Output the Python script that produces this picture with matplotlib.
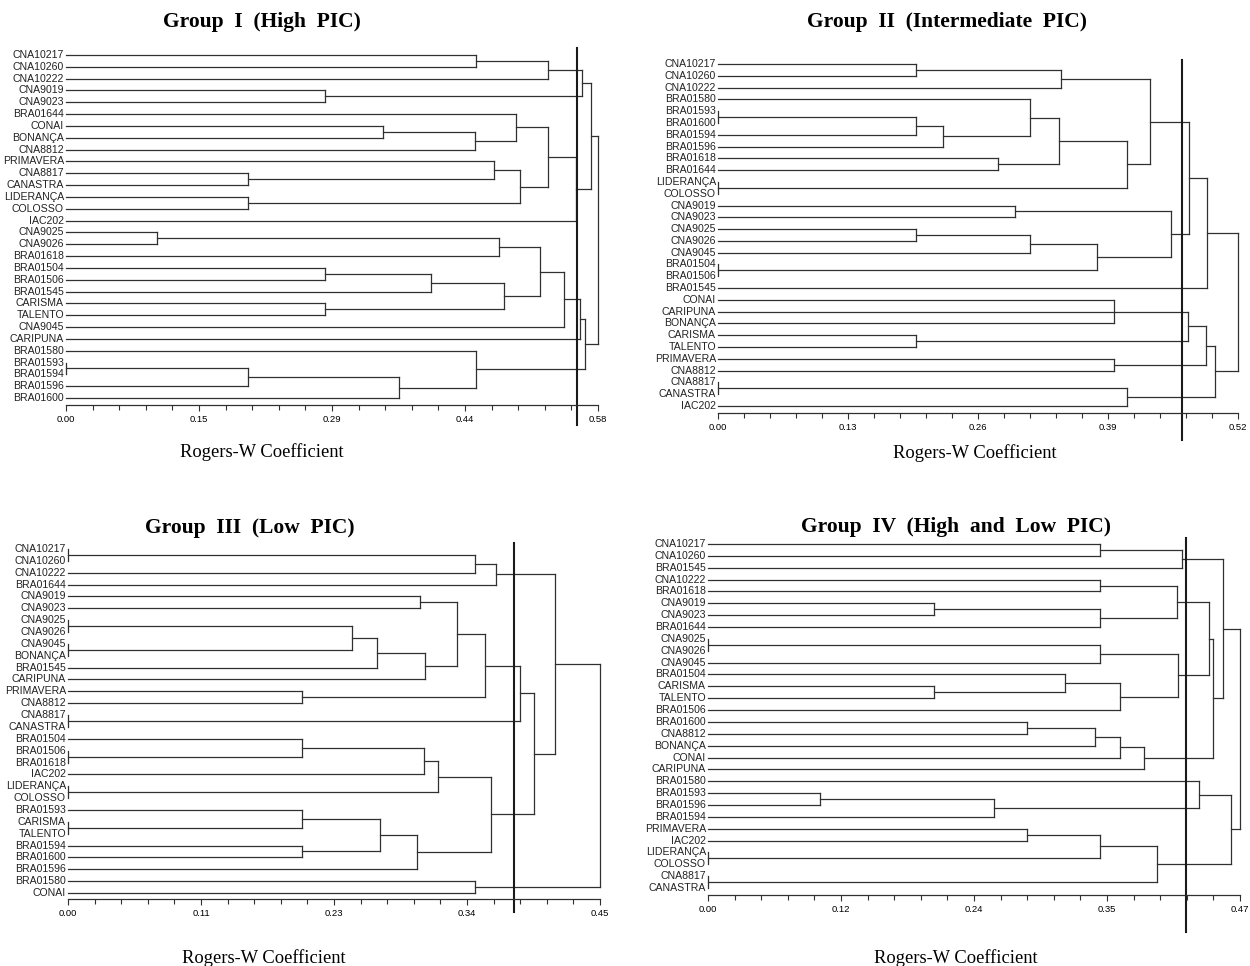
import matplotlib
matplotlib.use('Agg')
import matplotlib.pyplot as plt
import matplotlib.transforms as mtransforms
import numpy as np

# ---- data: leaf order and merges (children, Rogers-W height) ----
# children are leaf names or the index of an earlier merge in the same list

g1_labels = ['CNA10217', 'CNA10260', 'CNA10222', 'CNA9019', 'CNA9023', 'BRA01644', 'CONAI',
             'BONANÇA', 'CNA8812', 'PRIMAVERA', 'CNA8817', 'CANASTRA', 'LIDERANÇA', 'COLOSSO',
             'IAC202', 'CNA9025', 'CNA9026', 'BRA01618', 'BRA01504', 'BRA01506', 'BRA01545',
             'CARISMA', 'TALENTO', 'CNA9045', 'CARIPUNA', 'BRA01580', 'BRA01593', 'BRA01594',
             'BRA01596', 'BRA01600']
g1_merges = [
    (['CNA10217', 'CNA10260'], 0.447),   # 0
    ([0, 'CNA10222'], 0.526),            # 1
    (['CNA9019', 'CNA9023'], 0.282),     # 2
    ([1, 2], 0.563),                     # 3
    (['CONAI', 'BONANÇA'], 0.346),       # 4
    ([4, 'CNA8812'], 0.446),             # 5
    (['BRA01644', 5], 0.491),            # 6
    (['CNA8817', 'CANASTRA'], 0.198),    # 7
    (['PRIMAVERA', 7], 0.467),           # 8
    (['LIDERANÇA', 'COLOSSO'], 0.198),   # 9
    ([8, 9], 0.495),                     # 10
    ([6, 10], 0.526),                    # 11
    ([11, 'IAC202'], 0.556),             # 12
    ([3, 12], 0.572),                    # 13
    (['CNA9025', 'CNA9026'], 0.099),     # 14
    ([14, 'BRA01618'], 0.472),           # 15
    (['BRA01504', 'BRA01506'], 0.282),   # 16
    ([16, 'BRA01545'], 0.398),           # 17
    (['CARISMA', 'TALENTO'], 0.282),     # 18
    ([17, 18], 0.478),                   # 19
    ([15, 19], 0.517),                   # 20
    ([20, 'CNA9045'], 0.543),            # 21
    ([21, 'CARIPUNA'], 0.560),           # 22
    (['BRA01593', 'BRA01594'], 0.0),     # 23
    ([23, 'BRA01596'], 0.198),           # 24
    ([24, 'BRA01600'], 0.363),           # 25
    (['BRA01580', 25], 0.447),           # 26
    ([22, 26], 0.566),                   # 27
    ([13, 27], 0.58),                    # 28
]

g2_labels = ['CNA10217', 'CNA10260', 'CNA10222', 'BRA01580', 'BRA01593', 'BRA01600', 'BRA01594',
             'BRA01596', 'BRA01618', 'BRA01644', 'LIDERANÇA', 'COLOSSO', 'CNA9019', 'CNA9023',
             'CNA9025', 'CNA9026', 'CNA9045', 'BRA01504', 'BRA01506', 'BRA01545', 'CONAI',
             'CARIPUNA', 'BONANÇA', 'CARISMA', 'TALENTO', 'PRIMAVERA', 'CNA8812', 'CNA8817',
             'CANASTRA', 'IAC202']
g2_merges = [
    (['CNA10217', 'CNA10260'], 0.198),   # 0
    ([0, 'CNA10222'], 0.343),            # 1
    (['BRA01593', 'BRA01600'], 0.0),     # 2
    ([2, 'BRA01594'], 0.198),            # 3
    ([3, 'BRA01596'], 0.225),            # 4
    (['BRA01580', 4], 0.312),            # 5
    (['BRA01618', 'BRA01644'], 0.280),   # 6
    ([5, 6], 0.341),                     # 7
    (['LIDERANÇA', 'COLOSSO'], 0.0),     # 8
    ([7, 8], 0.409),                     # 9
    ([1, 9], 0.432),                     # 10
    (['CNA9019', 'CNA9023'], 0.297),     # 11
    (['CNA9025', 'CNA9026'], 0.198),     # 12
    ([12, 'CNA9045'], 0.312),            # 13
    (['BRA01504', 'BRA01506'], 0.0),     # 14
    ([13, 14], 0.379),                   # 15
    ([11, 15], 0.453),                   # 16
    ([10, 16], 0.471),                   # 17
    ([17, 'BRA01545'], 0.489),           # 18
    (['CONAI', 'CARIPUNA', 'BONANÇA'], 0.396),  # 19
    (['CARISMA', 'TALENTO'], 0.198),     # 20
    ([19, 20], 0.470),                   # 21
    (['PRIMAVERA', 'CNA8812'], 0.396),   # 22
    ([21, 22], 0.488),                   # 23
    (['CNA8817', 'CANASTRA'], 0.0),      # 24
    ([24, 'IAC202'], 0.409),             # 25
    ([23, 25], 0.497),                   # 26
    ([18, 26], 0.52),                    # 27
]

g3_labels = ['CNA10217', 'CNA10260', 'CNA10222', 'BRA01644', 'CNA9019', 'CNA9023', 'CNA9025',
             'CNA9026', 'CNA9045', 'BONANÇA', 'BRA01545', 'CARIPUNA', 'PRIMAVERA', 'CNA8812',
             'CNA8817', 'CANASTRA', 'BRA01504', 'BRA01506', 'BRA01618', 'IAC202', 'LIDERANÇA',
             'COLOSSO', 'BRA01593', 'CARISMA', 'TALENTO', 'BRA01594', 'BRA01600', 'BRA01596',
             'BRA01580', 'CONAI']
g3_merges = [
    (['CNA10217', 'CNA10260'], 0.0),     # 0
    ([0, 'CNA10222'], 0.344),            # 1
    ([1, 'BRA01644'], 0.362),            # 2
    (['CNA9019', 'CNA9023'], 0.298),     # 3
    (['CNA9025', 'CNA9026'], 0.0),       # 4
    (['CNA9045', 'BONANÇA'], 0.0),       # 5
    ([4, 5], 0.240),                     # 6
    ([6, 'BRA01545'], 0.261),            # 7
    ([7, 'CARIPUNA'], 0.302),            # 8
    ([3, 8], 0.329),                     # 9
    (['PRIMAVERA', 'CNA8812'], 0.198),   # 10
    ([9, 10], 0.353),                    # 11
    (['CNA8817', 'CANASTRA'], 0.0),      # 12
    ([11, 12], 0.382),                   # 13
    (['BRA01506', 'BRA01618'], 0.0),     # 14
    (['BRA01504', 14], 0.198),           # 15
    ([15, 'IAC202'], 0.301),             # 16
    (['LIDERANÇA', 'COLOSSO'], 0.0),     # 17
    ([16, 17], 0.313),                   # 18
    (['CARISMA', 'TALENTO'], 0.0),       # 19
    (['BRA01593', 19], 0.198),           # 20
    (['BRA01594', 'BRA01600'], 0.198),   # 21
    ([20, 21], 0.264),                   # 22
    ([22, 'BRA01596'], 0.295),           # 23
    ([18, 23], 0.358),                   # 24
    ([13, 24], 0.394),                   # 25
    ([2, 25], 0.412),                    # 26
    (['BRA01580', 'CONAI'], 0.344),      # 27
    ([26, 27], 0.45),                    # 28
]

g4_labels = ['CNA10217', 'CNA10260', 'BRA01545', 'CNA10222', 'BRA01618', 'CNA9019', 'CNA9023',
             'BRA01644', 'CNA9025', 'CNA9026', 'CNA9045', 'BRA01504', 'CARISMA', 'TALENTO',
             'BRA01506', 'BRA01600', 'CNA8812', 'BONANÇA', 'CONAI', 'CARIPUNA', 'BRA01580',
             'BRA01593', 'BRA01596', 'BRA01594', 'PRIMAVERA', 'IAC202', 'LIDERANÇA', 'COLOSSO',
             'CNA8817', 'CANASTRA']
g4_merges = [
    (['CNA10217', 'CNA10260'], 0.346),   # 0
    ([0, 'BRA01545'], 0.419),            # 1
    (['CNA10222', 'BRA01618'], 0.346),   # 2
    (['CNA9019', 'CNA9023'], 0.200),     # 3
    ([3, 'BRA01644'], 0.346),            # 4
    ([2, 4], 0.414),                     # 5
    (['CNA9025', 'CNA9026'], 0.0),       # 6
    ([6, 'CNA9045'], 0.346),             # 7
    (['CARISMA', 'TALENTO'], 0.200),     # 8
    (['BRA01504', 8], 0.315),            # 9
    ([9, 'BRA01506'], 0.364),            # 10
    ([7, 10], 0.415),                    # 11
    ([5, 11], 0.4425),                   # 12
    (['BRA01600', 'CNA8812'], 0.282),    # 13
    ([13, 'BONANÇA'], 0.3415),           # 14
    ([14, 'CONAI'], 0.364),              # 15
    ([15, 'CARIPUNA'], 0.385),           # 16
    ([12, 16], 0.446),                   # 17
    ([1, 17], 0.455),                    # 18
    (['BRA01593', 'BRA01596'], 0.099),   # 19
    ([19, 'BRA01594'], 0.2527),          # 20
    (['BRA01580', 20], 0.434),           # 21
    (['PRIMAVERA', 'IAC202'], 0.282),    # 22
    (['LIDERANÇA', 'COLOSSO'], 0.0),     # 23
    ([22, 23], 0.346),                   # 24
    (['CNA8817', 'CANASTRA'], 0.0),      # 25
    ([24, 25], 0.397),                   # 26
    ([21, 26], 0.462),                   # 27
    ([18, 27], 0.47),                    # 28
]

x_max = [0.58, 0.52, 0.45, 0.47]
cut_off = [0.557, 0.464, 0.377, 0.4224]
titles = ['Group I (High PIC)', 'Group II (Intermediate PIC)',
          'Group III (Low PIC)', 'Group IV (High and Low PIC)']
xlabel = 'Rogers-W Coefficient'

# ---- layout in pixels of a 1250x966 picture ----
W, H = 1250, 966
# left, right, first row y, last row y, axis y, title (x, y), xlabel (x, y), cut line (top, bottom)
layouts = [
    (66, 598, 55, 398, 405, (262, 22), (262, 452), (48, 425)),
    (718, 1238, 64, 406, 413, (947, 22), (975, 453), (60, 440)),
    (68, 600, 549, 893, 899, (250, 528), (264, 958), (543, 912)),
    (708, 1240, 544, 888, 895, (956, 527), (956, 958), (538, 932)),
]

line_kw = dict(color='#303030', lw=0.9, solid_capstyle='projecting', clip_on=False)


def draw_tree(ax, labels, merges):
    rows = {name: i for i, name in enumerate(labels)}
    nodes = []

    def where(c):
        if isinstance(c, str):
            return rows[c], 0.0
        return nodes[c]

    for kids, h in merges:
        pts = [where(k) for k in kids]
        ys = [p[0] for p in pts]
        for y, x in pts:
            ax.plot([x, h], [y, y], **line_kw)
        ax.plot([h, h], [min(ys), max(ys)], **line_kw)
        nodes.append(((min(ys) + max(ys)) / 2, h))


fig = plt.figure(figsize=(W / 100, H / 100), dpi=100)
fig.patch.set_facecolor('white')

groups = [(g1_labels, g1_merges), (g2_labels, g2_merges),
          (g3_labels, g3_merges), (g4_labels, g4_merges)]

for k, (labels, merges) in enumerate(groups):
    left, right, first, last, axis_y, tpos, xpos, cspan = layouts[k]
    n = len(labels)
    step = (last - first) / (n - 1)
    top = first - 0.5 * step
    ax = fig.add_axes([left / W, 1 - axis_y / H, (right - left) / W, (axis_y - top) / H])
    ax.set_xlim(0, x_max[k])
    ax.set_ylim(n - 1 + (axis_y - last) / step, -0.5)

    draw_tree(ax, labels, merges)

    for i, name in enumerate(labels):
        ax.annotate(name, (0, i), xytext=(-1.5, 0), textcoords='offset points',
                    ha='right', va='center', fontsize=7.6, family='Liberation Sans',
                    color='#222222')

    # cut-off line
    tr = mtransforms.blended_transform_factory(ax.transData, fig.transFigure)
    ax.plot([cut_off[k], cut_off[k]], [1 - cspan[0] / H, 1 - cspan[1] / H],
            transform=tr, color='#1a1a1a', lw=1.5, clip_on=False)

    for s in ['top', 'left', 'right']:
        ax.spines[s].set_visible(False)
    ax.spines['bottom'].set_linewidth(0.9)
    ax.spines['bottom'].set_color('#303030')
    ax.set_yticks([])
    major = np.linspace(0, x_max[k], 5)
    ax.set_xticks(major)
    ax.set_xticks(np.linspace(0, x_max[k], 21), minor=True)
    ax.set_xticklabels(['%.2f' % (np.floor(v * 100 + 0.5 + 1e-9) / 100) for v in major])
    ax.tick_params(axis='x', which='major', direction='out', length=4.5, width=0.8,
                   color='#303030', labelsize=6.8, pad=2.5)
    ax.tick_params(axis='x', which='minor', direction='out', length=3.5, width=0.8,
                   color='#303030')
    for t in ax.get_xticklabels():
        t.set_family('Liberation Sans')
    ax.patch.set_alpha(0)

    fig.text(tpos[0] / W, 1 - tpos[1] / H, '  '.join(titles[k].split(' ')),
             ha='center', va='center', fontsize=15.5, fontweight='bold',
             family='Liberation Serif')
    fig.text(xpos[0] / W, 1 - xpos[1] / H, xlabel, ha='center', va='center',
             fontsize=13.3, family='Liberation Serif')

fig.savefig('out.png', dpi=100)
